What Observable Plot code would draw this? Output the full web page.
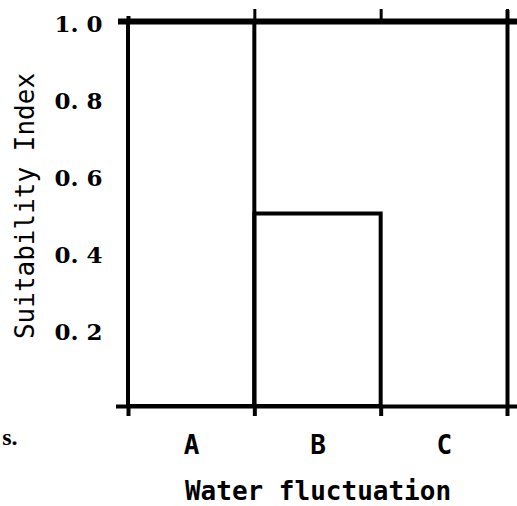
<!DOCTYPE html>
<html><head><meta charset="utf-8">
<script src="https://cdn.jsdelivr.net/npm/d3@7"></script>
<script src="https://cdn.jsdelivr.net/npm/@observablehq/plot@0.6"></script>
<style>
html,body{margin:0;padding:0;background:#fff}
</style></head><body><div id="chart"></div>
<script>
const categories = ["A", "B", "C"];
const values = [1.0, 0.5, 0];
const yTicks = [0.2, 0.4, 0.6, 0.8, 1.0];
const yTickLabels = ["0. 2", "0. 4", "0. 6", "0. 8", "1. 0"];
const xLabel = "Water fluctuation";
const yLabel = "Suitability Index";
const cutText = "s.";

const bars = categories.map((c, i) => ({category: c, x1: i, x2: i + 1, value: values[i]}));
const boundaries = d3.range(categories.length + 1);
const n = categories.length;

const chart = Plot.plot({
  width: 517, height: 506,
  marginLeft: 128, marginRight: 10, marginTop: 21, marginBottom: 100,
  x: {domain: [0, n], axis: null},
  y: {domain: [0, 1], axis: null},
  style: {background: "#fff", overflow: "visible"},
  marks: [
    Plot.rect(bars.filter(d => d.value > 0), {x1: "x1", x2: "x2", y1: () => 0, y2: "value", fill: "none", stroke: "black", strokeWidth: 4}),
    Plot.ruleX([n], {y1: () => 1, y2: () => 0, stroke: "black", strokeWidth: 4, insetTop: -11}),
    Plot.ruleX(boundaries.slice(1), {y1: () => 1, y2: () => 1, stroke: "black", strokeWidth: 3, insetTop: -12}),
    Plot.ruleX(boundaries.slice(0, 1), {y1: () => 1, y2: () => 1, stroke: "black", strokeWidth: 4, insetTop: -5}),
    Plot.ruleX(boundaries, {y1: () => 0, y2: () => 0, stroke: "black", strokeWidth: 4, insetBottom: -10}),
    Plot.ruleY([1], {stroke: "black", strokeWidth: 6, insetLeft: -10, insetRight: -10}),
    Plot.ruleY([0], {stroke: "black", strokeWidth: 4, insetLeft: -12, insetRight: -10}),
    Plot.text(yTicks, {y: d => d, frameAnchor: "left", text: (d, i) => yTickLabels[i], textAnchor: "end", dx: -26, dy: 3,
      fontFamily: "DejaVu Serif", fontWeight: "bold", fontSize: 23, fill: "black"}),
    Plot.text(bars, {x: d => (d.x1 + d.x2) / 2, y: () => 0, text: "category", dy: 39, lineAnchor: "middle",
      fontFamily: "DejaVu Sans Mono", fontWeight: "bold", fontSize: 26, fill: "black"}),
    Plot.text([xLabel], {frameAnchor: "bottom", text: d => d, dy: 85, lineAnchor: "middle",
      fontFamily: "DejaVu Sans Mono", fontWeight: "bold", fontSize: 26, fill: "black"}),
    Plot.text([yLabel], {frameAnchor: "left", text: d => d, rotate: -90, textAnchor: "middle", dx: -103, dy: -8, lineAnchor: "middle",
      fontFamily: "DejaVu Sans Mono", fontSize: 26, fill: "black"}),
    Plot.text([cutText], {frameAnchor: "bottom-left", text: d => d, textAnchor: "end", dx: -111, dy: 31, lineAnchor: "middle",
      fontFamily: "Liberation Serif", fontWeight: "bold", fontSize: 24, fill: "black"})
  ]
});
document.getElementById("chart").appendChild(chart);
</script>
</body></html>
